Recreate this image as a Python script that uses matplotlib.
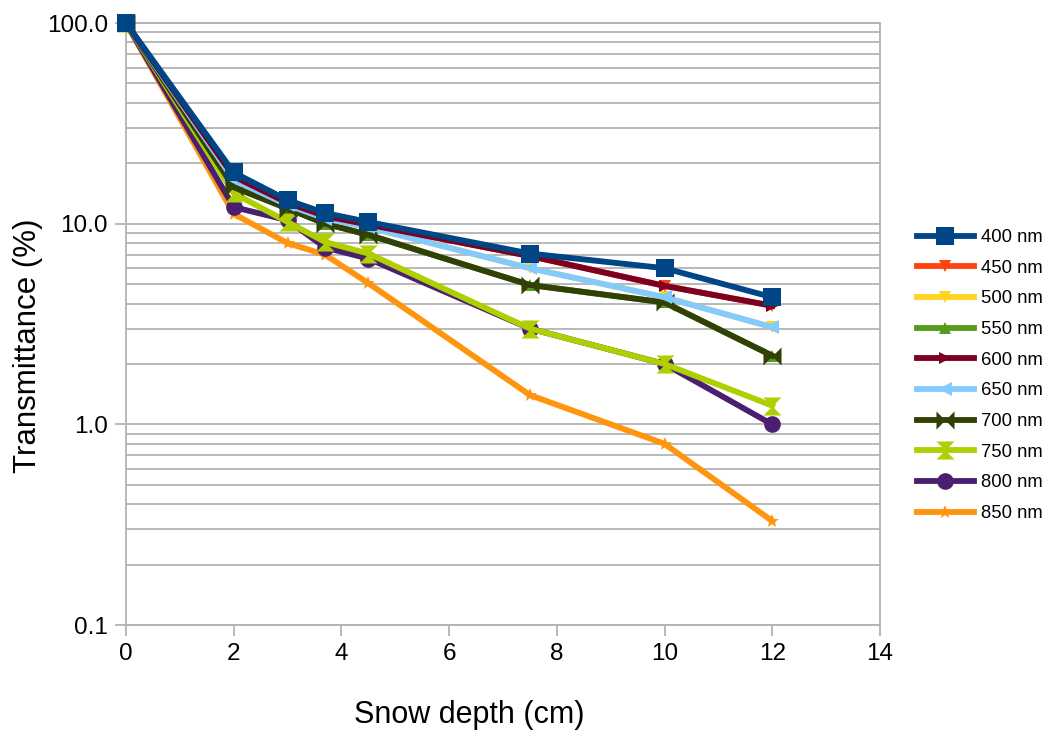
import matplotlib.pyplot as plt
from matplotlib.path import Path
from matplotlib.ticker import FixedLocator, FixedFormatter, NullFormatter, LogLocator

plt.rcParams['font.family'] = ['Liberation Sans', 'DejaVu Sans']

# snow depth (cm)
depth = [0, 2, 3, 3.7, 4.5, 7.5, 10, 12]

# transmittance (%) per wavelength
# 450, 500 and 550 nm are hidden under other lines in the chart
t400 = [100, 18, 13.1, 11.3, 10.2, 7.1, 6.0, 4.3]
t450 = [100, 17.2, 12.7, 10.9, 9.9, 6.9, 4.9, 3.9]
t500 = [100, 16.5, 12.4, 10.6, 9.6, 6.0, 4.3, 3.05]
t550 = [100, 15.2, 11.9, 10.0, 8.8, 4.95, 4.05, 2.2]
t600 = [100, 17.2, 12.7, 10.9, 9.9, 6.9, 4.9, 3.9]
t650 = [100, 16.5, 12.4, 10.6, 9.6, 6.0, 4.3, 3.05]
t700 = [100, 15.2, 11.9, 10.0, 8.8, 4.95, 4.05, 2.2]
t750 = [100, 14.2, 10.2, 8.1, 7.1, 3.0, 2.0, 1.24]
t800 = [100, 12.1, 10.4, 7.6, 6.7, 3.0, 2.0, 1.0]
t850 = [100, 11.2, 8.0, 7.0, 5.05, 1.4, 0.8, 0.33]

labels = ['400 nm', '450 nm', '500 nm', '550 nm', '600 nm',
          '650 nm', '700 nm', '750 nm', '800 nm', '850 nm']
series = [t400, t450, t500, t550, t600, t650, t700, t750, t800, t850]
colors = ['#004586', '#ff420e', '#ffd320', '#579d1c', '#7e0021',
          '#83caff', '#314004', '#aecf00', '#4b1f6f', '#ff950e']

# LibreOffice-like symbols
bowtie = Path([(-1, -1), (-1, 1), (0, 0), (1, 1), (1, -1), (0, 0), (-1, -1)])
sandglass = Path([(-1, 1), (1, 1), (0, 0), (1, -1), (-1, -1), (0, 0), (-1, 1)])
markers = ['s', 'v', 'v', '^', '>', '<', bowtie, sandglass, 'o', '*']
msizes = [13, 8, 9, 9, 9, 10, 13, 13, 12, 10]
zorders = [30, 5, 4, 3, 20, 19, 18, 17, 16, 15]

fig = plt.figure(figsize=(10.5, 7.33), dpi=100)
ax = fig.add_axes([0.12, 0.1473, 0.718, 0.8213])

for vals, lab, c, m, ms, z in zip(series, labels, colors, markers, msizes, zorders):
    ax.plot(depth, vals, color=c, lw=4.2, marker=m, markersize=ms,
            markeredgewidth=0, label=lab, zorder=z, clip_on=False)

ax.set_yscale('log')
ax.set_ylim(0.1, 100)
ax.set_xlim(0, 14)
ax.set_xticks([0, 2, 4, 6, 8, 10, 12, 14])
ax.yaxis.set_major_locator(FixedLocator([0.1, 1, 10, 100]))
ax.yaxis.set_major_formatter(FixedFormatter(['0.1', '1.0', '10.0', '100.0']))
ax.yaxis.set_minor_locator(LogLocator(base=10, subs=range(2, 10)))
ax.yaxis.set_minor_formatter(NullFormatter())

grid_c = '#b3b3b3'
ax.grid(True, which='both', axis='y', color=grid_c, lw=1.3, zorder=0)
ax.set_axisbelow(True)
for s in ax.spines.values():
    s.set_color(grid_c)
    s.set_linewidth(1.3)
ax.tick_params(axis='both', which='major', colors=grid_c, length=8, width=1.3,
               labelcolor='black', labelsize=17.5, pad=5)
ax.tick_params(axis='y', which='minor', length=0)

ax.set_xlabel('Snow depth (cm)', fontsize=22, va='center', ha='center')
ax.xaxis.set_label_coords(0.455, -0.149)
ax.set_ylabel('Transmittance (%)', fontsize=22.5, va='center', ha='center')
ax.yaxis.set_label_coords(-0.130, 0.4636)

ax.legend(loc='center left', bbox_to_anchor=(1.049, 0.4145), frameon=False,
          fontsize=13.3, handlelength=3.1, labelspacing=0.74, handletextpad=0.4,
          borderpad=0, borderaxespad=0)

fig.savefig('out.png', dpi=100)
